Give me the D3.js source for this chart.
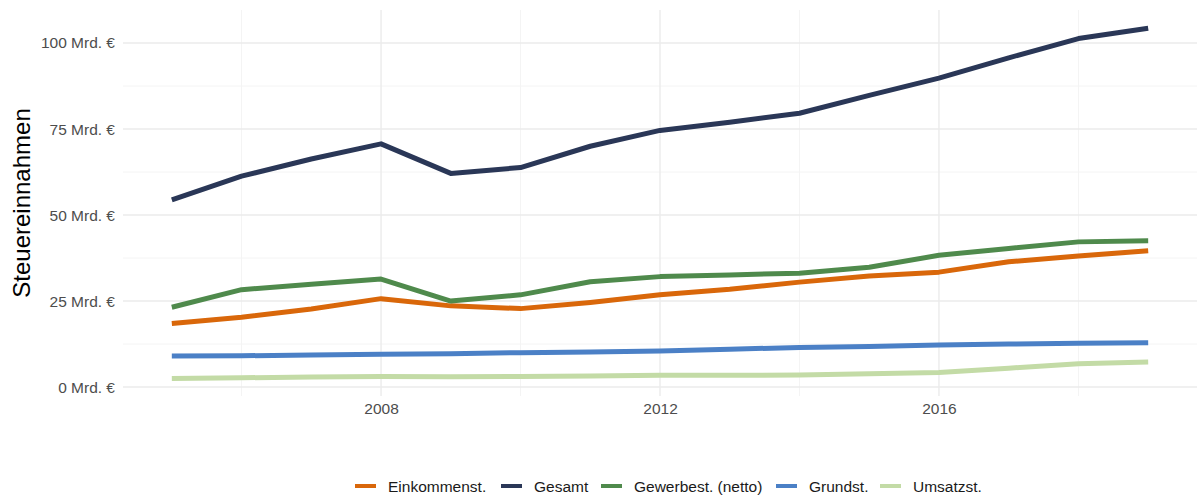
<!DOCTYPE html>
<html>
<head>
<meta charset="utf-8">
<script src="https://cdn.jsdelivr.net/npm/d3@7"></script>
<style>
body { margin: 0; background: #fff; }
svg { font-family: "Liberation Sans", Arial, sans-serif; }
</style>
</head>
<body>
<svg id="chart" width="1201" height="498"></svg>
<script>
var years = [2005, 2006, 2007, 2008, 2009, 2010, 2011, 2012, 2013, 2014, 2015, 2016, 2017, 2018, 2019];

var einkommenst = [18.5, 20.3, 22.7, 25.7, 23.6, 22.8, 24.6, 26.8, 28.4, 30.5, 32.3, 33.4, 36.4, 38.1, 39.6];
var gesamt = [54.4, 61.3, 66.3, 70.7, 62.1, 63.8, 70.0, 74.6, 77.0, 79.6, 84.8, 89.8, 95.7, 101.3, 104.3];
var gewerbest = [23.2, 28.3, 29.9, 31.4, 25.0, 26.8, 30.6, 32.1, 32.6, 33.1, 34.8, 38.3, 40.3, 42.2, 42.5];
var grundst = [9.0, 9.1, 9.3, 9.5, 9.7, 10.0, 10.2, 10.5, 11.0, 11.5, 11.8, 12.2, 12.5, 12.7, 12.9];
var umsatzst = [2.5, 2.7, 2.9, 3.1, 3.0, 3.1, 3.2, 3.4, 3.4, 3.5, 3.9, 4.2, 5.5, 6.8, 7.3];

var seriesNames = ["Einkommenst.", "Gesamt", "Gewerbest. (netto)", "Grundst.", "Umsatzst."];
var seriesColors = ["#d9670a", "#2a3757", "#4f8a4c", "#4b80c6", "#c3dba6"];
var seriesValues = [einkommenst, gesamt, gewerbest, grundst, umsatzst];

var xTicks = [2008, 2012, 2016];
var xMinor = [2006, 2010, 2014, 2018];
var yTicks = [0, 25, 50, 75, 100];
var yMinor = [12.5, 37.5, 62.5, 87.5];

var svg = d3.select("#chart");

var panel = {left: 123, right: 1197, top: 10, bottom: 396};

var x = d3.scaleLinear().domain([2004.3, 2019.7]).range([panel.left, panel.right]);
var y = d3.scaleLinear().domain([-2.6, 109.6]).range([panel.bottom, panel.top]);

// grid
var grid = svg.append("g");
grid.selectAll("line.ymin").data(yMinor).enter().append("line")
    .attr("x1", panel.left).attr("x2", panel.right)
    .attr("y1", function(d) { return y(d); }).attr("y2", function(d) { return y(d); })
    .attr("stroke", "#f4f4f4").attr("stroke-width", 1);
grid.selectAll("line.xmin").data(xMinor).enter().append("line")
    .attr("y1", panel.top).attr("y2", panel.bottom)
    .attr("x1", function(d) { return x(d); }).attr("x2", function(d) { return x(d); })
    .attr("stroke", "#f4f4f4").attr("stroke-width", 1);
grid.selectAll("line.ymaj").data(yTicks).enter().append("line")
    .attr("x1", panel.left).attr("x2", panel.right)
    .attr("y1", function(d) { return y(d); }).attr("y2", function(d) { return y(d); })
    .attr("stroke", "#ebebeb").attr("stroke-width", 1.4);
grid.selectAll("line.xmaj").data(xTicks).enter().append("line")
    .attr("y1", panel.top).attr("y2", panel.bottom)
    .attr("x1", function(d) { return x(d); }).attr("x2", function(d) { return x(d); })
    .attr("stroke", "#ebebeb").attr("stroke-width", 1.4);

// axes (labels only, ggplot minimal style)
var yAxis = svg.append("g")
    .attr("transform", "translate(" + (panel.left - 8) + ",0)")
    .call(d3.axisLeft(y).tickValues(yTicks).tickSize(0).tickPadding(0)
        .tickFormat(function(d) { return d + " Mrd. €"; }));
yAxis.select(".domain").remove();
yAxis.selectAll("text").attr("fill", "#4d4d4d").style("font-size", "15.5px");

var xAxis = svg.append("g")
    .attr("transform", "translate(0," + (panel.bottom + 7) + ")")
    .call(d3.axisBottom(x).tickValues(xTicks).tickSize(0).tickPadding(0).tickFormat(d3.format("d")));
xAxis.select(".domain").remove();
xAxis.selectAll("text").attr("fill", "#4d4d4d").style("font-size", "15.5px");

svg.append("text")
    .attr("transform", "translate(30," + ((panel.top + panel.bottom) / 2) + ") rotate(-90)")
    .attr("text-anchor", "middle")
    .style("font-size", "24px")
    .attr("fill", "#000")
    .text("Steuereinnahmen");

// lines
var line = d3.line()
    .x(function(d, i) { return x(years[i]); })
    .y(function(d) { return y(d); });

svg.append("g").selectAll("path").data(seriesValues).enter().append("path")
    .attr("d", line)
    .attr("fill", "none")
    .attr("stroke", function(d, i) { return seriesColors[i]; })
    .attr("stroke-width", 5)
    .attr("stroke-linejoin", "round");

// legend
var legendX = [355, 501, 601, 776, 880];
var legend = svg.append("g");
seriesNames.forEach(function(name, i) {
    legend.append("line")
        .attr("x1", legendX[i]).attr("x2", legendX[i] + 21)
        .attr("y1", 486).attr("y2", 486)
        .attr("stroke", seriesColors[i]).attr("stroke-width", 4);
    legend.append("text")
        .attr("x", legendX[i] + 33).attr("y", 491.5)
        .style("font-size", "15.5px")
        .attr("fill", "#1a1a1a")
        .text(name);
});
</script>
</body>
</html>
